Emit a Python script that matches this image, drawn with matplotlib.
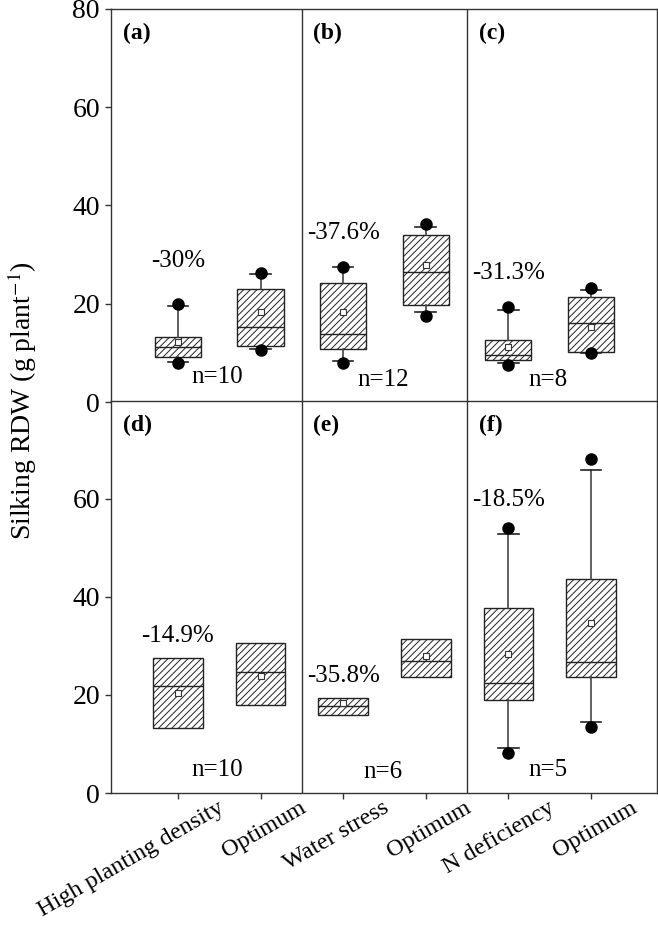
import numpy as np
import matplotlib
matplotlib.use('Agg')
import matplotlib.pyplot as plt
from matplotlib.transforms import ScaledTranslation

plt.rcParams['font.family'] = ['Liberation Serif', 'DejaVu Serif']
plt.rcParams['mathtext.fontset'] = 'stix'
plt.rcParams['hatch.linewidth'] = 0.7

#################### Data ####################
labels = ['High planting density', 'Optimum', 'Water stress', 'Optimum',
          'N deficiency', 'Optimum']
panel_tags = [['(a)', '(b)', '(c)'], ['(d)', '(e)', '(f)']]
changes = [['-30%', '-37.6%', '-31.3%'], ['-14.9%', '-35.8%', '-18.5%']]
n_obs = [['n=10', 'n=12', 'n=8'], ['n=10', 'n=6', 'n=5']]

# top row (a, b, c)
top_q1 = [9.2, 11.4, 10.8, 19.8, 8.6, 10.2]
top_med = [11.2, 15.2, 13.8, 26.4, 9.5, 16.1]
top_q3 = [13.2, 23.0, 24.3, 33.9, 12.6, 21.4]
top_mean = [12.2, 18.4, 18.4, 27.9, 11.2, 15.3]
top_wlo = [8.2, 10.8, 8.3, 18.4, 7.9, 10.0]
top_whi = [19.6, 26.1, 27.4, 35.7, 18.7, 22.8]
top_p5 = [8.0, 10.5, 8.0, 17.6, 7.5, 10.0]
top_p95 = [19.9, 26.3, 27.5, 36.2, 19.3, 23.2]

# bottom row (d, e, f); no whiskers for d and e
bot_q1 = [13.2, 18.0, 15.9, 23.7, 19.0, 23.7]
bot_med = [21.8, 24.7, 17.8, 27.0, 22.4, 26.8]
bot_q3 = [27.6, 30.6, 19.4, 31.4, 37.8, 43.7]
bot_mean = [20.4, 23.9, 18.4, 28.0, 28.4, 34.7]
bot_wlo = [None, None, None, None, 9.2, 14.5]
bot_whi = [None, None, None, None, 52.9, 65.9]
bot_p5 = [None, None, None, None, 8.2, 13.5]
bot_p95 = [None, None, None, None, 54.1, 68.1]

# label positions (data coords)
change_y = [[28.7, 34.4, 26.3], [32.0, 23.9, 59.8]]
n_y = [[5.0, 4.5, 4.5], [4.7, 4.3, 4.7]]

positions = np.arange(1, 7)

#################### Plot ####################
fig = plt.figure(figsize=(6.58, 9.25), dpi=100)
ax_top = fig.add_axes([0.1687, 0.5654, 0.8298, 0.4249])
ax_bot = fig.add_axes([0.1687, 0.1427, 0.8298, 0.4238])


def make_stats(q1, med, q3, mean, wlo, whi, p5, p95):
    stats = []
    for i in range(len(q1)):
        lo = wlo[i] if wlo[i] is not None else q1[i]
        hi = whi[i] if whi[i] is not None else q3[i]
        fl = [v for v in (p5[i], p95[i]) if v is not None]
        stats.append(dict(q1=q1[i], med=med[i], q3=q3[i], mean=mean[i],
                          whislo=lo, whishi=hi, fliers=fl))
    return stats


def draw_row(ax, stats, width, has_whisk):
    capw = [0.25 if h else 0.0 for h in has_whisk]
    ax.bxp(stats, positions=positions, widths=width, patch_artist=True,
           showmeans=True, capwidths=capw,
           boxprops=dict(facecolor='white', edgecolor='#222222', hatch='/////', linewidth=1.0),
           medianprops=dict(color='#222222', linewidth=1.0),
           whiskerprops=dict(color='#444444', linewidth=1.2),
           capprops=dict(color='#222222', linewidth=1.2),
           meanprops=dict(marker='s', markerfacecolor='white', markeredgecolor='#333333',
                          markersize=4, markeredgewidth=0.8),
           flierprops=dict(marker='o', markerfacecolor='black', markeredgecolor='black',
                           markersize=8))


draw_row(ax_top, make_stats(top_q1, top_med, top_q3, top_mean, top_wlo, top_whi, top_p5, top_p95),
         0.56, [True] * 6)
draw_row(ax_bot, make_stats(bot_q1, bot_med, bot_q3, bot_mean, bot_wlo, bot_whi, bot_p5, bot_p95),
         0.6, [w is not None for w in bot_wlo])

for r, ax in enumerate([ax_top, ax_bot]):
    ax.set_xlim(0.19, 6.80)
    ax.set_ylim(0, 80)
    for xv in (2.5, 4.5):
        ax.axvline(xv, color='#333333', linewidth=1.0)
    for s in ax.spines.values():
        s.set_color('#333333')
        s.set_linewidth(1.0)
    ax.tick_params(direction='out', length=4.5, width=1.0, color='#333333', labelsize=20)
    ax.set_xticks(positions)
    for g in range(3):
        x0 = 0.19 if g == 0 else 2.5 + 2 * (g - 1)
        ax.text(x0 + 0.14, 75, panel_tags[r][g], fontsize=17, fontweight='bold',
                va='center', ha='left')
        ax.text(2 * g + 1, change_y[r][g], changes[r][g], fontsize=18, ha='center', va='center')
        ax.text(2 * g + 1.48, n_y[r][g], n_obs[r][g], fontsize=18, ha='center', va='center')

ax_top.set_yticks([0, 20, 40, 60, 80])
ax_top.set_xticklabels([])
ax_bot.set_yticks([0, 20, 40, 60])
ax_bot.set_xticklabels(labels, rotation=30, ha='right', va='baseline',
                       rotation_mode='anchor', fontsize=17.5)
for lab in ax_bot.get_xticklabels():
    lab.set_transform(lab.get_transform() + ScaledTranslation(0.47, -0.07, fig.dpi_scale_trans))

fig.text(0.033, 0.5665, 'Silking RDW (g plant$^{-1}$)', rotation=90,
         ha='center', va='center', fontsize=20)

plt.savefig('out.png', dpi=100)
